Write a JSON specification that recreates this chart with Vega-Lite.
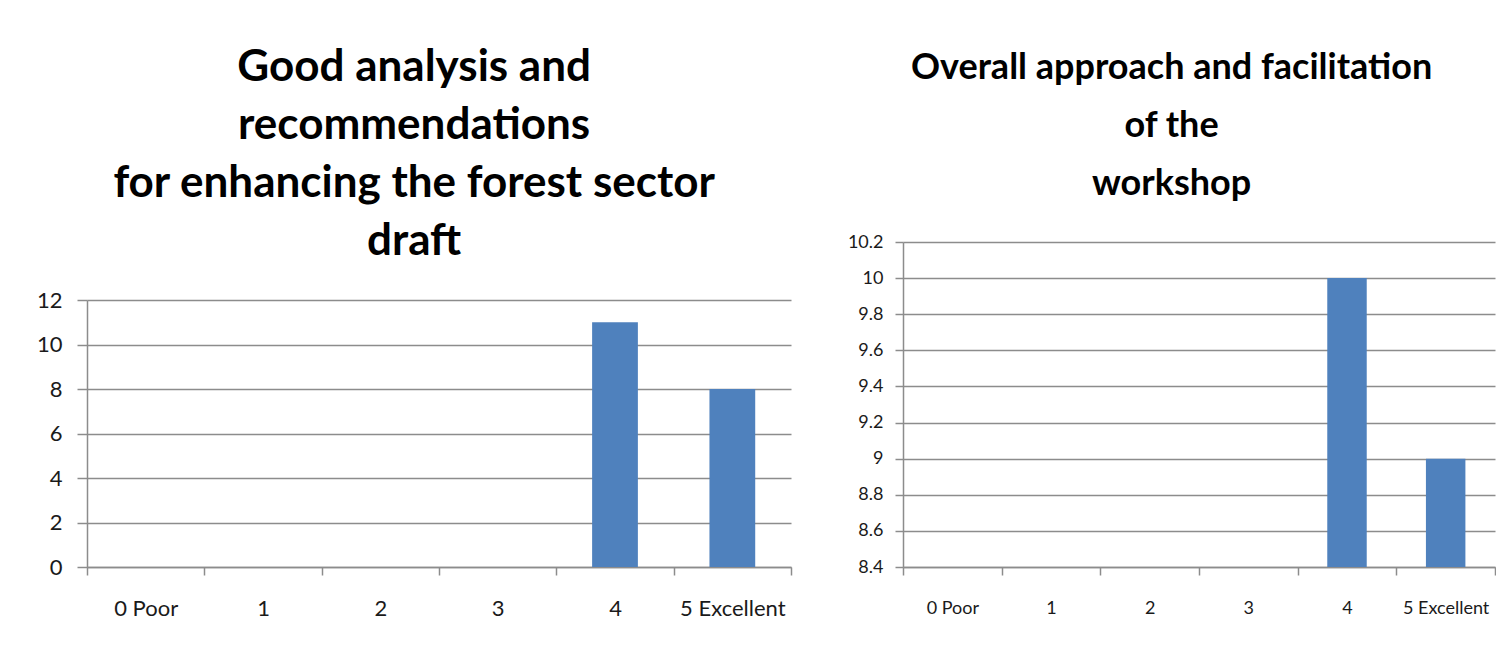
{
  "$schema": "https://vega.github.io/schema/vega-lite/v6.json",
  "background": "white",
  "padding": {"left": 36, "top": 46, "right": 0, "bottom": 0},
  "config": {
    "font": "Lato",
    "view": {"stroke": null},
    "title": {
      "font": "Lato",
      "fontWeight": "bold",
      "color": "#000000",
      "lineHeight": 58,
      "anchor": "middle",
      "frame": "bounds"
    },
    "axis": {
      "labelFont": "Lato",
      "labelColor": "#1a1a1a",
      "title": null,
      "domainColor": "#8c8c8c",
      "domainWidth": 1.5,
      "tickColor": "#8c8c8c",
      "tickWidth": 1.5,
      "gridColor": "#8c8c8c",
      "gridWidth": 1.5
    },
    "axisX": {
      "labelAngle": 0,
      "tickSize": 8,
      "tickBand": "extent",
      "grid": false
    },
    "axisY": {"grid": true},
    "bar": {"color": "#4f81bd"}
  },
  "datasets": {
    "analysis": [
      {"rating": "0 Poor", "count": 0},
      {"rating": "1", "count": 0},
      {"rating": "2", "count": 0},
      {"rating": "3", "count": 0},
      {"rating": "4", "count": 11},
      {"rating": "5 Excellent", "count": 8}
    ],
    "facilitation": [
      {"rating": "0 Poor", "count": 0},
      {"rating": "1", "count": 0},
      {"rating": "2", "count": 0},
      {"rating": "3", "count": 0},
      {"rating": "4", "count": 10},
      {"rating": "5 Excellent", "count": 9}
    ]
  },
  "spacing": 55,
  "hconcat": [
    {
      "title": {
        "text": ["Good analysis and", "recommendations", "for enhancing the forest sector", "draft"],
        "fontSize": 44,
        "offset": -22
      },
      "width": 704,
      "height": 325,
      "data": {"name": "analysis"},
      "mark": {"type": "bar", "width": {"band": 0.39}, "clip": true},
      "encoding": {
        "x": {
          "field": "rating",
          "type": "nominal",
          "sort": null,
          "scale": {"paddingInner": 0, "paddingOuter": 0},
          "axis": {"labelFontSize": 22, "labelPadding": 23}
        },
        "y": {
          "field": "count",
          "type": "quantitative",
          "scale": {"domain": [0, 12], "nice": false, "range": [325, 58]},
          "axis": {
            "values": [0, 2, 4, 6, 8, 10, 12],
            "labelFontSize": 22,
            "tickSize": 10,
            "labelPadding": 15
          }
        }
      }
    },
    {
      "title": {
        "text": ["Overall approach and facilitation", "of the", "workshop"],
        "fontSize": 36,
        "offset": 30
      },
      "width": 592,
      "height": 325,
      "data": {"name": "facilitation"},
      "mark": {"type": "bar", "width": {"band": 0.4}, "clip": true},
      "encoding": {
        "x": {
          "field": "rating",
          "type": "nominal",
          "sort": null,
          "scale": {"paddingInner": 0, "paddingOuter": 0},
          "axis": {"labelFontSize": 18, "labelPadding": 24}
        },
        "y": {
          "field": "count",
          "type": "quantitative",
          "scale": {"domain": [8.4, 10.2], "zero": false, "nice": false},
          "axis": {
            "values": [8.4, 8.6, 8.8, 9, 9.2, 9.4, 9.6, 9.8, 10, 10.2],
            "format": "~g",
            "labelFontSize": 18,
            "tickSize": 8,
            "labelPadding": 12
          }
        }
      }
    }
  ]
}
